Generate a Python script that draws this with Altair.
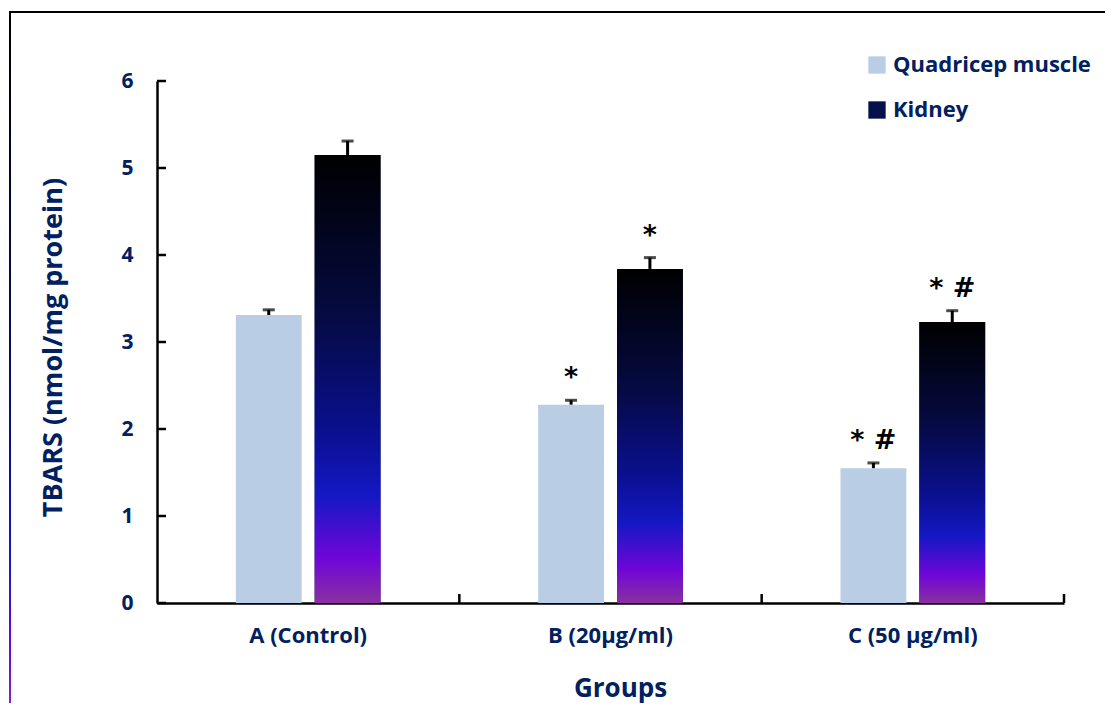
import altair as alt
import pandas as pd

groups = ["A (Control)", "B (20µg/ml)", "C (50 µg/ml)"]
series_names = ["Quadricep muscle", "Kidney"]
quad = [3.31, 2.28, 1.55]
quad_err = [0.06, 0.05, 0.06]
kidney = [5.15, 3.84, 3.23]
kidney_err = [0.16, 0.13, 0.13]
quad_sig = ["", "*", "*   #"]
kidney_sig = ["", "*", "*    #"]
y_ticks = [0, 1, 2, 3, 4, 5, 6]

rows = []
for i, g in enumerate(groups):
    rows.append({"group": g, "series": series_names[0], "value": quad[i], "err": quad_err[i], "sig": quad_sig[i]})
    rows.append({"group": g, "series": series_names[1], "value": kidney[i], "err": kidney_err[i], "sig": kidney_sig[i]})
df = pd.DataFrame(rows)
ticks_df = pd.DataFrame({"tick": y_ticks})

W, H = 907, 522
NAVY = "#002060"
FONT = "Open Sans"

kidney_grad = alt.LinearGradient(
    gradient="linear", x1=0, x2=0, y1=0, y2=1,
    stops=[
        alt.GradientStop(color="#000000", offset=0.0),
        alt.GradientStop(color="#050a40", offset=0.35),
        alt.GradientStop(color="#0a1090", offset=0.62),
        alt.GradientStop(color="#1418c4", offset=0.76),
        alt.GradientStop(color="#6f06d8", offset=0.9),
        alt.GradientStop(color="#8a30a0", offset=1.0),
    ],
)

x_scale = alt.Scale(domain=groups, paddingInner=0, paddingOuter=0)
xo_scale = alt.Scale(domain=series_names, paddingInner=0.165, paddingOuter=1.0)
y_scale = alt.Scale(domain=[0, 6], nice=False, zero=True)

x_axis = alt.Axis(
    title="Groups", tickSize=0, labelAngle=0, labelPadding=22,
    domainColor="black", domainWidth=2.5, grid=False,
    labelFont=FONT, labelFontWeight="bold", labelFontSize=22, labelColor=NAVY,
    titleFont=FONT, titleFontWeight="bold", titleFontSize=26, titleColor=NAVY,
    titleX=463, titleY=85, titleBaseline="middle", titleAlign="center",
)
y_axis = alt.Axis(
    title="TBARS (nmol/mg protein)", values=y_ticks, tickSize=0, labelPadding=24,
    domainColor="black", domainWidth=2.5, grid=False,
    labelFont=FONT, labelFontWeight="bold", labelFontSize=21, labelColor=NAVY,
    titleFont=FONT, titleFontWeight="bold", titleFontSize=27, titleColor=NAVY,
    titleX=-104, titleY=266, titleAngle=270, titleBaseline="middle", titleAlign="center",
)


def X(**kw):
    return alt.X("group:N", scale=x_scale, axis=x_axis, sort=groups, **kw)


def XO():
    return alt.XOffset("series:N", scale=xo_scale, sort=series_names)


def Y(field):
    return alt.Y(field, scale=y_scale, axis=y_axis)


base = alt.Chart(df)

bars = base.mark_bar().encode(
    x=X(),
    xOffset=XO(),
    y=Y("value:Q"),
    color=alt.Color(
        "series:N",
        scale=alt.Scale(domain=series_names, range=["#b9cde5", "#06104a"]),
        legend=alt.Legend(
            title=None, orient="none", legendX=709, legendY=-27,
            symbolType="square", symbolSize=300, symbolStrokeWidth=0,
            labelFont=FONT, labelFontSize=22, labelFontWeight="bold", labelColor=NAVY,
            labelOffset=5, rowPadding=23, padding=0, labelLimit=400,
        ),
    ),
)

kid_bars = base.transform_filter(alt.datum.series == "Kidney").mark_bar(fill=kidney_grad).encode(
    x=X(), xOffset=XO(), y=Y("value:Q"),
)

err_base = base.transform_calculate(top="datum.value + datum.err")

stems = err_base.mark_rule(color="black", strokeWidth=3).encode(
    x=X(), xOffset=XO(), y=Y("value:Q"), y2="top:Q",
)

caps = err_base.mark_tick(color="black", thickness=3, size=12, orient="horizontal").encode(
    x=X(), xOffset=XO(), y=Y("top:Q"),
)

sig = err_base.mark_text(
    font="DejaVu Sans", fontWeight="bold", fontSize=27, color="black",
    baseline="middle", align="center", dy=-22,
).encode(
    x=X(), xOffset=XO(), y=Y("top:Q"), text="sig:N",
)

x_ticks = base.transform_filter(alt.datum.series == "Kidney").mark_rule(color="black", strokeWidth=2.5).encode(
    x=X(bandPosition=1),
    y=alt.value(H),
    y2=alt.value(H - 9),
)

y_tick_marks = alt.Chart(ticks_df).mark_rule(color="black", strokeWidth=2.5).encode(
    y=Y("tick:Q"),
    x=alt.value(0),
    x2=alt.value(9),
)

frame_df = pd.DataFrame({"k": [0]})
frame_top = alt.Chart(frame_df).mark_rule(color="black", strokeWidth=2).encode(
    x=alt.value(-147), x2=alt.value(960), y=alt.value(-69),
)
frame_left = alt.Chart(frame_df).mark_rect(fill=kidney_grad).encode(
    x=alt.value(-148), x2=alt.value(-146), y=alt.value(-70), y2=alt.value(640),
)

chart = alt.layer(
    bars, kid_bars, stems, caps, sig, x_ticks, y_tick_marks, frame_top, frame_left
).properties(
    width=W, height=H,
    autosize=alt.AutoSizeParams(type="none"),
    padding={"left": 149, "top": 73, "right": 41, "bottom": 100},
).configure_view(stroke=None)

chart.save("out.html", embed_options={"renderer": "svg", "actions": False})
